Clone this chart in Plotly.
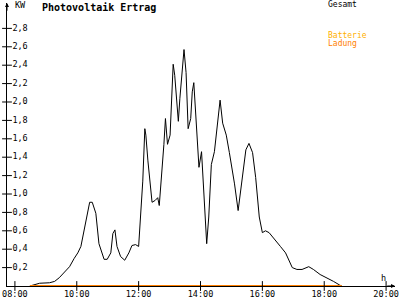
import plotly.graph_objects as go

# ---- data ----
times = ["08:29","08:48","09:07","09:17","09:26","09:36","09:46","09:55","10:02","10:08",
         "10:14","10:21","10:25","10:30","10:37","10:43","10:53","10:59","11:06","11:10",
         "11:14","11:18","11:25","11:33","11:41","11:47","11:54","12:00","12:05","12:08",
         "12:12","12:14","12:18","12:26","12:32","12:37","12:40","12:43","12:49","12:52",
         "12:56","13:01","13:03","13:07","13:10","13:17","13:20","13:23","13:28","13:32",
         "13:36","13:41","13:44","13:47","13:50","13:54","13:57","14:02","14:07","14:12",
         "14:16","14:21","14:27","14:34","14:38","14:43","14:50","14:56","14:59","15:06",
         "15:13","15:20","15:28","15:34","15:41","15:47","15:54","16:00","16:06","16:13",
         "16:19","16:29","16:35","16:45","16:58","17:07","17:17","17:30","17:39","17:52",
         "18:05","18:18","18:30","18:34"]
gesamt_kw = [0.00,0.03,0.035,0.05,0.09,0.15,0.21,0.30,0.36,0.43,
             0.61,0.79,0.91,0.91,0.79,0.46,0.29,0.29,0.36,0.57,
             0.61,0.43,0.32,0.28,0.36,0.44,0.45,0.43,0.89,1.14,
             1.71,1.64,1.36,0.91,0.93,0.96,0.875,1.07,1.54,1.82,
             1.54,1.64,1.86,2.41,2.29,1.79,2.04,2.21,2.57,2.32,
             1.71,1.82,2.11,2.21,1.96,1.61,1.29,1.46,0.89,0.46,
             0.75,1.32,1.46,1.82,2.02,1.77,1.64,1.45,1.36,1.11,
             0.82,1.11,1.48,1.55,1.45,1.18,0.75,0.58,0.60,0.58,
             0.54,0.48,0.43,0.36,0.20,0.18,0.18,0.21,0.18,0.125,
             0.09,0.05,0.01,0.00]
ladung_times = ["08:29", "18:34"]
ladung_kw = [0.0, 0.0]

y_ticks = [0.2, 0.4, 0.6, 0.8, 1.0, 1.2, 1.4, 1.6, 1.8, 2.0, 2.2, 2.4, 2.6, 2.8]
y_tick_labels = ["0,2","0,4","0,6","0,8","1,0","1,2","1,4","1,6","1,8","2,0","2,2","2,4","2,6","2,8"]
x_ticks = [8, 10, 12, 14, 16, 18, 20]
x_tick_labels = ["08:00","10:00","12:00","14:00","16:00","18:00","20:00"]

title_text = "Photovoltaik Ertrag"
legend_gesamt = "Gesamt"
legend_batterie = "Batterie"
legend_ladung = "Ladung"
y_unit = "KW"
x_unit = "h"


def to_h(s):
    h, m = s.split(":")
    return int(h) + int(m) / 60.0


xg = [to_h(t) for t in times]
xl = [to_h(t) for t in ladung_times]

X0, X1 = 7.744, 20.288
Y0, Y1 = 0.0, 3.076
FONT = "DejaVu Sans Mono"
ORANGE = "#ff8000"
YELLOW = "#ffb000"

W, H = 400, 300
L, R, T, B = 7, 1, 3, 10
pw, ph = W - L - R, H - T - B


def px(x):
    return (x - L) / pw


def py(y):
    return 1 - (y - T) / ph


fig = go.Figure()
fig.add_trace(go.Scatter(x=xg, y=gesamt_kw, mode="lines",
                         line=dict(color="black", width=1), hoverinfo="skip"))
fig.add_trace(go.Scatter(x=xl, y=ladung_kw, mode="lines",
                         line=dict(color=ORANGE, width=2), hoverinfo="skip"))
# crossing tick marks on x axis
fig.add_trace(go.Scatter(x=x_ticks, y=[0] * len(x_ticks), mode="markers",
                         marker=dict(symbol="line-ns-open", size=7, color="black",
                                     line=dict(width=1, color="black")),
                         hoverinfo="skip", cliponaxis=False))
# crossing tick marks + labels on y axis
fig.add_trace(go.Scatter(x=[X0] * len(y_ticks), y=y_ticks, mode="markers+text",
                         text=y_tick_labels, textposition="middle right",
                         textfont=dict(family=FONT, size=8.5, color="black"),
                         marker=dict(symbol="line-ew-open", size=7, color="black",
                                     line=dict(width=1, color="black")),
                         hoverinfo="skip", cliponaxis=False))

fig.update_layout(
    width=W, height=H,
    margin=dict(l=L, r=R, t=T, b=B),
    paper_bgcolor="white", plot_bgcolor="white",
    showlegend=False,
    font=dict(family=FONT, size=8.5, color="black"),
    xaxis=dict(range=[X0, X1], showgrid=False, zeroline=False, showline=True,
               linecolor="black", linewidth=1, tickvals=x_ticks, ticktext=x_tick_labels,
               ticks="", tickfont=dict(family=FONT, size=8.5), ticklabeloverflow="allow",
               fixedrange=True),
    yaxis=dict(range=[Y0, Y1], showgrid=False, zeroline=False, showline=True,
               linecolor="black", linewidth=1, showticklabels=False, ticks="",
               fixedrange=True),
)

# axis arrows
fig.add_annotation(x=X0, y=Y1, ax=X0, ay=Y1 - 0.1, xref="x", yref="y", axref="x", ayref="y",
                   showarrow=True, arrowhead=2, arrowsize=0.8, arrowwidth=1, arrowcolor="black", text="")
fig.add_annotation(x=X1, y=0, ax=X1 - 0.3, ay=0, xref="x", yref="y", axref="x", ayref="y",
                   showarrow=True, arrowhead=2, arrowsize=0.8, arrowwidth=1, arrowcolor="black", text="")

# texts
fig.add_annotation(x=px(13), y=py(5.5), xref="paper", yref="paper", text=y_unit, showarrow=False,
                   xanchor="left", yanchor="middle", font=dict(family=FONT, size=8.5, color="black"))
fig.add_annotation(x=px(40), y=py(8), xref="paper", yref="paper", text="<b>" + title_text + "</b>",
                   showarrow=False, xanchor="left", yanchor="middle",
                   font=dict(family=FONT, size=10, color="black"))
fig.add_annotation(x=px(329), y=py(4.5), xref="paper", yref="paper", text=legend_gesamt,
                   showarrow=False, xanchor="left", yanchor="middle",
                   font=dict(family=FONT, size=8, color="black"))
fig.add_annotation(x=px(329), y=py(35.5), xref="paper", yref="paper", text=legend_batterie,
                   showarrow=False, xanchor="left", yanchor="middle",
                   font=dict(family=FONT, size=8, color=YELLOW))
fig.add_annotation(x=px(329), y=py(44), xref="paper", yref="paper", text=legend_ladung,
                   showarrow=False, xanchor="left", yanchor="middle",
                   font=dict(family=FONT, size=8, color=ORANGE))
fig.add_annotation(x=px(387), y=py(282), xref="paper", yref="paper", text=x_unit,
                   showarrow=False, xanchor="center", yanchor="middle",
                   font=dict(family=FONT, size=8.5, color="black"))

fig.write_html("out.html")
